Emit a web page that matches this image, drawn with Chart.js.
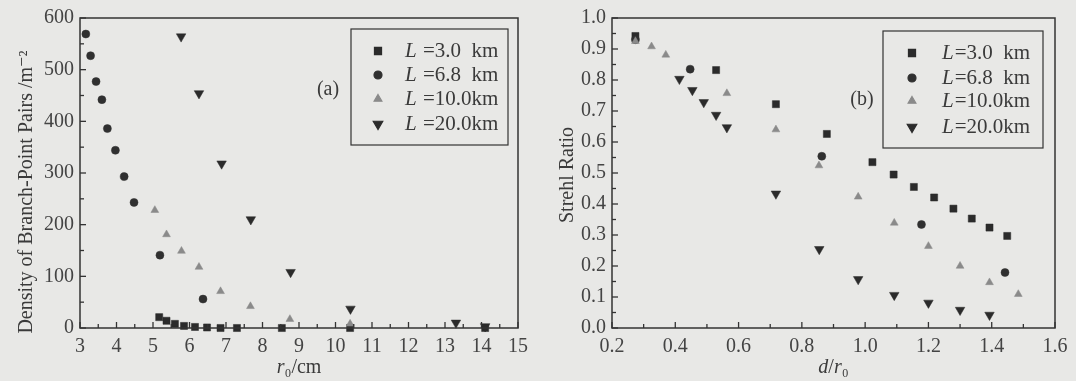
<!DOCTYPE html>
<html>
<head>
<meta charset="utf-8">
<script src="https://cdn.jsdelivr.net/npm/chart.js@4"></script>
<style>
  body { margin:0; background:#e8e8e6; width:1076px; height:381px; overflow:hidden; }
  canvas { position:absolute; top:0; }
  #ca { left:0; }
  #cb { left:540px; }
</style>
</head>
<body>
<canvas id="ca" width="540" height="381"></canvas>
<canvas id="cb" width="536" height="381"></canvas>
<script>
// (a) density of branch-point pairs vs r0
const aL3x  = [5.17, 5.37, 5.6, 5.85, 6.15, 6.48, 6.85, 7.3, 8.53, 10.4, 14.1];
const aL3y  = [21, 14, 8, 4, 2, 1, 0, 0, 0, 0, 0];
const aL68x = [3.16, 3.29, 3.44, 3.6, 3.75, 3.97, 4.21, 4.48, 5.19, 6.37];
const aL68y = [569, 527, 477, 442, 386, 344, 293, 243, 141, 56];
const aL10x = [5.05, 5.37, 5.78, 6.26, 6.85, 7.67, 8.75, 10.4];
const aL10y = [228, 181, 149, 118, 71, 42, 17, 8];
const aL20x = [5.77, 6.26, 6.88, 7.68, 8.77, 10.41, 13.3, 14.1];
const aL20y = [564, 454, 318, 210, 108, 37, 10, 3];

// (b) Strehl ratio vs d/r0
const bL3x  = [0.274, 0.529, 0.718, 0.879, 1.023, 1.09, 1.154, 1.218, 1.279, 1.337, 1.393, 1.449];
const bL3y  = [0.942, 0.832, 0.722, 0.626, 0.535, 0.495, 0.455, 0.421, 0.385, 0.353, 0.324, 0.297];
const bL68x = [0.274, 0.447, 0.863, 1.178, 1.442];
const bL68y = [0.93, 0.835, 0.554, 0.334, 0.179];
const bL10x = [0.274, 0.325, 0.37, 0.563, 0.718, 0.854, 0.978, 1.092, 1.2, 1.3, 1.393, 1.484];
const bL10y = [0.925, 0.908, 0.881, 0.757, 0.64, 0.524, 0.423, 0.339, 0.264, 0.2, 0.147, 0.109];
const bL20x = [0.413, 0.454, 0.49, 0.529, 0.563, 0.718, 0.855, 0.978, 1.092, 1.2, 1.3, 1.393];
const bL20y = [0.803, 0.767, 0.728, 0.687, 0.647, 0.433, 0.254, 0.157, 0.106, 0.081, 0.058, 0.042];

const legendNames = ['3.0  km', '6.8  km', '10.0km', '20.0km'];

const ink = '#333';
const serif = "'Liberation Serif', 'DejaVu Serif', serif";

const styles = [
  {pointStyle:'rect', radius:5, rotation:0, color:'#2b2b2b'},
  {pointStyle:'circle', radius:4, rotation:0, color:'#303030'},
  {pointStyle:'triangle', radius:4.5, rotation:0, color:'#8a8a8a'},
  {pointStyle:'triangle', radius:5.5, rotation:180, color:'#2b2b2b'}
];

function pts(xs, ys){
  return xs.map((x, i) => ({x: x, y: ys[i]}));
}

function makeSets(series){
  // draw light triangles first, squares last
  const order = [2, 3, 1, 0];
  return order.map(i => ({
    label: legendNames[i],
    data: pts(series[i][0], series[i][1]),
    showLine: false,
    pointStyle: styles[i].pointStyle,
    pointRadius: styles[i].radius,
    pointRotation: styles[i].rotation,
    pointBackgroundColor: styles[i].color,
    pointBorderColor: styles[i].color,
    pointBorderWidth: 0.5,
    clip: false
  }));
}

const framePlugin = {
  id: 'frame',
  afterDraw(chart, args, o){
    const ctx = chart.ctx, a = chart.chartArea, x = chart.scales.x, y = chart.scales.y;
    ctx.save();
    ctx.strokeStyle = ink;
    ctx.lineWidth = 1.5;
    ctx.strokeRect(a.left, a.top, a.right - a.left, a.bottom - a.top);
    ctx.lineWidth = 1.3;
    let n = 0;
    for (let v = x.min; v <= x.max + 1e-9; v += o.xMinor, n++) {
      const px = x.getPixelForValue(v);
      const len = n % 2 === 0 ? 6 : 4;
      ctx.beginPath(); ctx.moveTo(px, a.bottom); ctx.lineTo(px, a.bottom - len); ctx.stroke();
    }
    n = 0;
    for (let v = y.min; v <= y.max + 1e-9; v += o.yMinor, n++) {
      const py = y.getPixelForValue(v);
      const len = n % 2 === 0 ? 6 : 4;
      ctx.beginPath(); ctx.moveTo(a.left, py); ctx.lineTo(a.left + len, py); ctx.stroke();
    }

    // legend box
    const L = o.legend;
    ctx.lineWidth = 1.2;
    ctx.strokeRect(L.x, L.y, L.w, L.h);
    for (let i = 0; i < 4; i++) {
      const ry = L.rows[i];
      ctx.fillStyle = styles[i].color;
      ctx.strokeStyle = styles[i].color;
      Chart.helpers.drawPoint(ctx, {pointStyle: styles[i].pointStyle, radius: styles[i].radius, rotation: styles[i].rotation, borderWidth: 0.5}, L.mx, ry);
      ctx.fillStyle = '#3a3a3a';
      ctx.textBaseline = 'middle';
      ctx.textAlign = 'left';
      ctx.font = 'italic 21px ' + serif;
      ctx.fillText('L', L.tx, ry);
      const lw = ctx.measureText('L').width;
      ctx.font = '21px ' + serif;
      ctx.fillText(L.eq + legendNames[i], L.tx + lw + 1, ry);
    }
    ctx.font = '20px ' + serif;
    ctx.fillStyle = '#3a3a3a';
    ctx.textAlign = 'center';
    ctx.fillText(o.tag[0], o.tag[1], o.tag[2]);

    // y axis title
    ctx.save();
    ctx.translate(o.yTitle[1], o.yTitle[2]);
    ctx.rotate(-Math.PI / 2);
    ctx.font = '20px ' + serif;
    ctx.textAlign = 'center';
    ctx.fillText(o.yTitle[0], 0, 0);
    ctx.restore();

    // x axis title with italic parts
    const cx = (a.left + a.right) / 2, ty = 368;
    const parts = o.xTitle;
    let total = 0;
    parts.forEach(p => { ctx.font = (p[1] ? 'italic ' : '') + p[2] + 'px ' + serif; total += ctx.measureText(p[0]).width; });
    let tx = cx - total / 2;
    ctx.textAlign = 'left';
    parts.forEach(p => {
      ctx.font = (p[1] ? 'italic ' : '') + p[2] + 'px ' + serif;
      ctx.fillText(p[0], tx, ty + (p[3] || 0));
      tx += ctx.measureText(p[0]).width;
    });
    ctx.restore();
  }
};

function makeChart(id, series, opt){
  const ctx = document.getElementById(id).getContext('2d');
  return new Chart(ctx, {
    type: 'scatter',
    data: {datasets: makeSets(series)},
    options: {
      responsive: false,
      animation: false,
      devicePixelRatio: 1,
      layout: {padding: {left: 0, top: 17, right: opt.padRight, bottom: 0}},
      plugins: {
        legend: {display: false},
        tooltip: {enabled: false},
        frame: opt.frame
      },
      scales: {
        x: {
          type: 'linear', min: opt.xMin, max: opt.xMax,
          grid: {display: false, drawTicks: false}, border: {display: false},
          ticks: {stepSize: opt.xStep, color: '#444', padding: 7, font: {family: serif, size: 20},
                  callback: opt.xFmt},
          afterFit(s){ s.height = 53; }
        },
        y: {
          type: 'linear', min: opt.yMin, max: opt.yMax,
          grid: {display: false, drawTicks: false}, border: {display: false},
          ticks: {stepSize: opt.yStep, color: '#444', padding: 6, font: {family: serif, size: 20},
                  callback: opt.yFmt},
          afterFit(s){ s.width = opt.yWidth; }
        }
      }
    },
    plugins: [framePlugin]
  });
}

makeChart('ca', [[aL3x, aL3y], [aL68x, aL68y], [aL10x, aL10y], [aL20x, aL20y]], {
  xMin: 3, xMax: 15, xStep: 1, yMin: 0, yMax: 600, yStep: 100,
  xFmt: v => v.toFixed(0), yFmt: v => v.toFixed(0),
  yWidth: 80, padRight: 22,
  frame: {
    xMinor: 0.5, yMinor: 50,
    legend: {x: 351, y: 29, w: 157, h: 116, rows: [51, 75, 99, 124], mx: 378, tx: 405, eq: ' ='},
    tag: ['(a)', 328, 90],
    yTitle: ['Density of Branch-Point Pairs /m\u207B\u00B2', 27, 192],
    xTitle: [['r', true, 20], ['\u2080', false, 20, 0], ['/cm', false, 20]]
  }
});

makeChart('cb', [[bL3x, bL3y], [bL68x, bL68y], [bL10x, bL10y], [bL20x, bL20y]], {
  xMin: 0.2, xMax: 1.6, xStep: 0.2, yMin: 0, yMax: 1.0, yStep: 0.1,
  xFmt: v => v.toFixed(1), yFmt: v => v.toFixed(1),
  yWidth: 72, padRight: 21,
  frame: {
    xMinor: 0.1, yMinor: 0.05,
    legend: {x: 343, y: 31, w: 160, h: 117, rows: [53, 78, 101, 127], mx: 372, tx: 402, eq: '='},
    tag: ['(b)', 322, 100],
    yTitle: ['Strehl Ratio', 28, 175],
    xTitle: [['d', true, 20], ['/', false, 20], ['r', true, 20], ['\u2080', false, 20, 0]]
  }
});
</script>
</body>
</html>
